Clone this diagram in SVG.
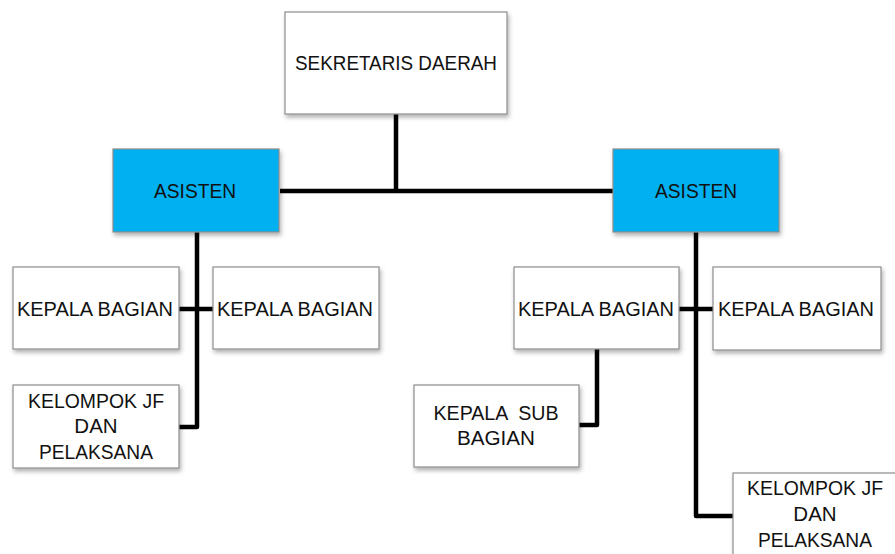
<svg xmlns="http://www.w3.org/2000/svg" width="895" height="554" viewBox="0 0 895 554">
<style>
.box{fill:#fff;stroke:#8c8c8c;stroke-width:1.2;filter:url(#sh)}
.blue{fill:#00b0f0}
text{font-family:"Liberation Sans",Arial,sans-serif;font-size:20.5px;fill:#111;text-anchor:middle}
.ln{fill:none;stroke:#000;stroke-width:4.5;stroke-linejoin:round}
</style>
<defs>
<filter id="sh" x="-10%" y="-10%" width="125%" height="130%">
<feDropShadow dx="1.5" dy="3" stdDeviation="2" flood-color="#000" flood-opacity="0.3"/>
</filter>
</defs>
<rect width="895" height="554" fill="#fff"/>
<g id="connectors">
<path class="ln" d="M396,114 V191 M280,191 H613"/>
<path class="ln" d="M197,232 V427 H179 M179,309 H213"/>
<path class="ln" d="M696,232 V516 H733 M679,309 H713"/>
<path class="ln" d="M597,349 V425 H579"/>
</g>
<g id="sekda"><rect class="box" x="285" y="12" width="222" height="102"/><text x="396" y="70" textLength="202" lengthAdjust="spacingAndGlyphs">SEKRETARIS DAERAH</text></g>
<g id="asisten1"><rect class="box blue" x="113" y="149" width="166" height="83"/><text x="195" y="198" textLength="82" lengthAdjust="spacingAndGlyphs">ASISTEN</text></g>
<g id="asisten2"><rect class="box blue" x="613" y="149" width="166" height="83"/><text x="696" y="198" textLength="82" lengthAdjust="spacingAndGlyphs">ASISTEN</text></g>
<g id="kabag1"><rect class="box" x="13" y="267" width="166" height="82"/><text x="95" y="316" textLength="156" lengthAdjust="spacingAndGlyphs">KEPALA BAGIAN</text></g>
<g id="kabag2"><rect class="box" x="213" y="267" width="166" height="82"/><text x="295" y="316" textLength="156" lengthAdjust="spacingAndGlyphs">KEPALA BAGIAN</text></g>
<g id="jf1"><rect class="box" x="13" y="385" width="166" height="83"/><text x="96" y="408" textLength="136" lengthAdjust="spacingAndGlyphs">KELOMPOK JF</text><text x="96" y="433">DAN</text><text x="96" y="459" textLength="114" lengthAdjust="spacingAndGlyphs">PELAKSANA</text></g>
<g id="kabag3"><rect class="box" x="514" y="267" width="165" height="82"/><text x="596" y="316" textLength="156" lengthAdjust="spacingAndGlyphs">KEPALA BAGIAN</text></g>
<g id="kabag4"><rect class="box" x="713" y="267" width="168" height="83"/><text x="796" y="316" textLength="156" lengthAdjust="spacingAndGlyphs">KEPALA BAGIAN</text></g>
<g id="kasubag"><rect class="box" x="414" y="385" width="165" height="82"/><text x="496" y="420" xml:space="preserve" textLength="125" lengthAdjust="spacingAndGlyphs">KEPALA  SUB</text><text x="496" y="445" textLength="78" lengthAdjust="spacingAndGlyphs">BAGIAN</text></g>
<g id="jf2"><rect class="box" x="733" y="473" width="166" height="90"/><text x="815" y="495" textLength="136" lengthAdjust="spacingAndGlyphs">KELOMPOK JF</text><text x="815" y="521">DAN</text><text x="815" y="547" textLength="114" lengthAdjust="spacingAndGlyphs">PELAKSANA</text></g>
</svg>
